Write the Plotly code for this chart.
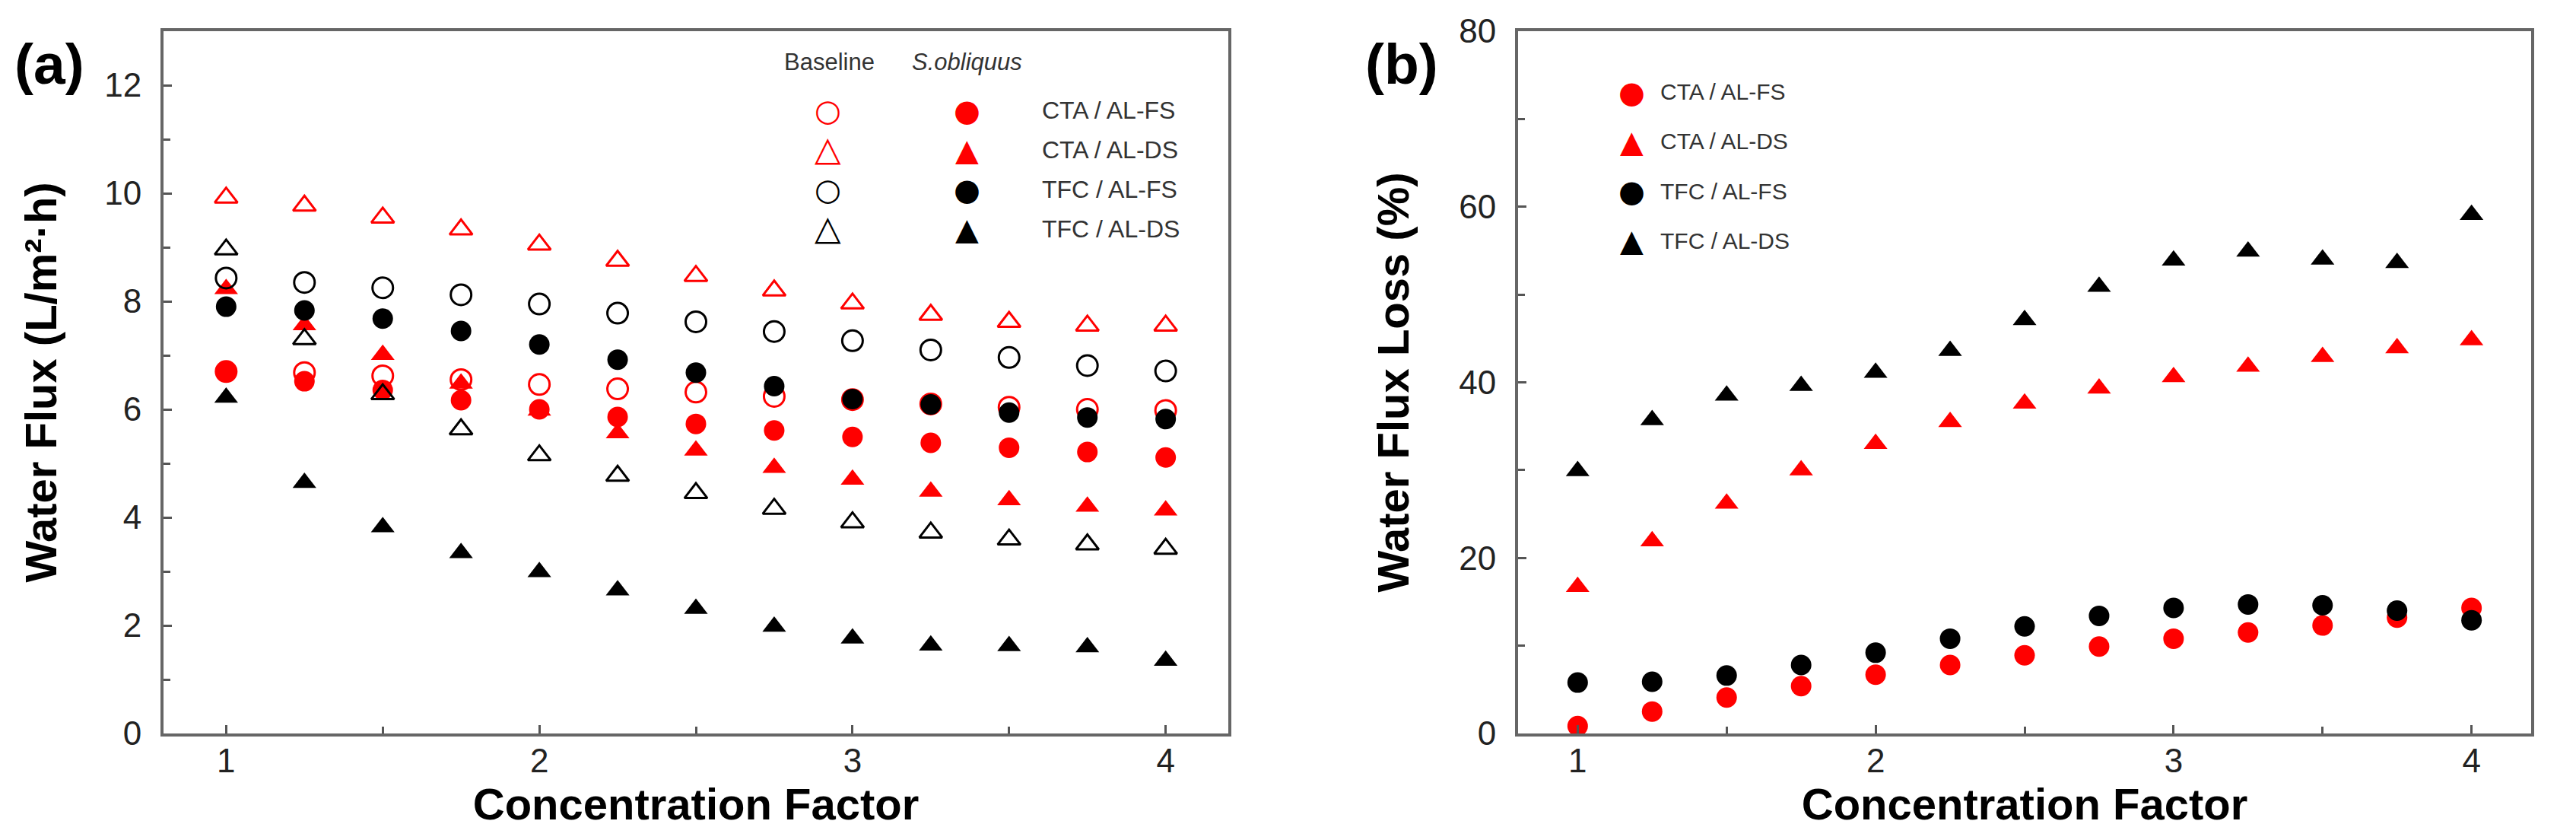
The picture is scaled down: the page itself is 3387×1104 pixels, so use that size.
import plotly.graph_objects as go

W, H = 3387, 1104

# ---------------- data ----------------
cf = [1.0, 1.25, 1.5, 1.75, 2.0, 2.25, 2.5, 2.75, 3.0, 3.25, 3.5, 3.75, 4.0]

# panel (a) water flux (L/m2.h)
a_base_cta_fs = [6.70, 6.68, 6.62, 6.55, 6.46, 6.38, 6.32, 6.24, 6.18, 6.10, 6.04, 6.00, 5.98]
a_so_cta_fs = [6.70, 6.52, 6.36, 6.17, 6.00, 5.86, 5.73, 5.61, 5.49, 5.38, 5.29, 5.21, 5.11]
a_base_cta_ds = [9.92, 9.77, 9.55, 9.33, 9.05, 8.75, 8.47, 8.20, 7.96, 7.75, 7.62, 7.55, 7.55]
a_so_cta_ds = [8.23, 7.56, 7.01, 6.48, 5.98, 5.56, 5.24, 4.92, 4.70, 4.48, 4.32, 4.20, 4.13]
a_base_tfc_fs = [8.43, 8.35, 8.25, 8.12, 7.95, 7.78, 7.62, 7.44, 7.27, 7.10, 6.96, 6.81, 6.71]
a_so_tfc_fs = [7.90, 7.83, 7.68, 7.45, 7.20, 6.92, 6.68, 6.43, 6.19, 6.09, 5.94, 5.85, 5.82]
a_base_tfc_ds = [8.96, 7.30, 6.28, 5.63, 5.15, 4.77, 4.45, 4.16, 3.91, 3.72, 3.59, 3.50, 3.42]
a_so_tfc_ds = [6.22, 4.64, 3.82, 3.34, 2.99, 2.65, 2.31, 1.98, 1.76, 1.63, 1.62, 1.60, 1.35]

# panel (b) water flux loss (%)
b_cta_fs = [0.85, 2.5, 4.1, 5.4, 6.7, 7.8, 8.9, 9.9, 10.8, 11.5, 12.3, 13.2, 14.3]
b_cta_ds = [16.7, 21.9, 26.2, 30.0, 33.0, 35.5, 37.6, 39.3, 40.6, 41.8, 42.9, 43.9, 44.8]
b_tfc_fs = [5.8, 5.9, 6.6, 7.8, 9.2, 10.8, 12.2, 13.4, 14.3, 14.7, 14.6, 14.0, 12.9]
b_tfc_ds = [29.9, 35.7, 38.5, 39.6, 41.1, 43.6, 47.1, 50.9, 53.9, 54.9, 54.0, 53.6, 59.1]

series_names = ["CTA / AL-FS", "CTA / AL-DS", "TFC / AL-FS", "TFC / AL-DS"]
x_ticks = [1, 2, 3, 4]

RED = "#ff0000"
BLK = "#000000"
TXT = "Liberation Sans, Arial, sans-serif"


def X(px):
    return px / W


def Y(py):
    return 1 - py / H


fig = go.Figure()


def add(x, y, symbol, color, size, ax, name, lw=0):
    fig.add_trace(go.Scatter(
        x=x, y=y, mode="markers", name=name, showlegend=False,
        xaxis=ax[0], yaxis=ax[1],
        marker=dict(symbol=symbol, size=size, color=color,
                    line=dict(width=lw, color=color)),
    ))


A = ("x", "y")
B = ("x2", "y2")
# panel (a) - drawing order as in the original
add(cf, a_base_cta_fs, "circle-open", RED, 27, A, "Baseline CTA / AL-FS", 3)
add(cf, a_so_cta_fs, "circle", RED, 27, A, "S.obliquus CTA / AL-FS")
add(cf, a_base_cta_ds, "triangle-up-open", RED, 26, A, "Baseline CTA / AL-DS", 3)
add(cf, a_so_cta_ds, "triangle-up", RED, 27, A, "S.obliquus CTA / AL-DS")
add(cf, a_base_tfc_fs, "circle-open", BLK, 27, A, "Baseline TFC / AL-FS", 3)
add(cf, a_so_tfc_fs, "circle", BLK, 27, A, "S.obliquus TFC / AL-FS")
add(cf, a_base_tfc_ds, "triangle-up-open", BLK, 26, A, "Baseline TFC / AL-DS", 3)
add(cf, a_so_tfc_ds, "triangle-up", BLK, 27, A, "S.obliquus TFC / AL-DS")
# panel (b)
add(cf, b_cta_fs, "circle", RED, 27, B, "CTA / AL-FS")
add(cf, b_cta_ds, "triangle-up", RED, 27, B, "CTA / AL-DS")
add(cf, b_tfc_fs, "circle", BLK, 27, B, "TFC / AL-FS")
add(cf, b_tfc_ds, "triangle-up", BLK, 27, B, "TFC / AL-DS")

axis_common = dict(
    showline=True, linewidth=4, linecolor="#666666", mirror=True,
    showgrid=False, zeroline=False,
    ticks="inside", ticklen=11, tickwidth=3, tickcolor="#555555",
    tickfont=dict(family=TXT, size=44, color="#222222"),
)
title_font = dict(family=TXT, size=58, color="#000000", weight="bold")

ydom = [Y(956), Y(33)]

fig.update_layout(
    width=W, height=H,
    margin=dict(l=0, r=0, t=0, b=0),
    paper_bgcolor="white", plot_bgcolor="white",
    xaxis=dict(domain=[X(207), X(1607)], anchor="y", range=[0.8, 4.2],
               tickvals=x_ticks, ticklabelstandoff=-6,
               minor=dict(dtick=0.5, tick0=0, ticks="inside", ticklen=9,
                          tickwidth=3, tickcolor="#555555"),
               title=dict(text="Concentration Factor", font=title_font, standoff=10),
               automargin=False, **axis_common),
    yaxis=dict(domain=ydom, anchor="x", range=[0, 13], tick0=0, dtick=2,
               ticklabelstandoff=16,
               minor=dict(dtick=1, tick0=0, ticks="inside", ticklen=9,
                          tickwidth=3, tickcolor="#555555"),
               title=dict(text="Water Flux (L/m²·h)", font=title_font, standoff=45),
               automargin=False, **axis_common),
    xaxis2=dict(domain=[X(1988), X(3320)], anchor="y2", range=[0.8, 4.2],
                tickvals=x_ticks, ticklabelstandoff=-6,
                minor=dict(dtick=0.5, tick0=0, ticks="inside", ticklen=9,
                           tickwidth=3, tickcolor="#555555"),
                title=dict(text="Concentration Factor", font=title_font, standoff=10),
                automargin=False, **axis_common),
    yaxis2=dict(domain=ydom, anchor="x2", range=[0, 80], tick0=0, dtick=20,
                ticklabelstandoff=16,
                minor=dict(dtick=10, tick0=0, ticks="inside", ticklen=9,
                           tickwidth=3, tickcolor="#555555"),
                title=dict(text="Water Flux Loss (%)", font=title_font, standoff=48),
                automargin=False, **axis_common),
)

ann = []


def text(x, y, s, size, color="#333333", anchor="left", family=TXT, weight="normal"):
    ann.append(dict(x=X(x), y=Y(y), xref="paper", yref="paper", text=s,
                    showarrow=False, xanchor=anchor, yanchor="middle",
                    font=dict(family=family, size=size, color=color, weight=weight)))


# panel letters
text(57, 76, "(a)", 75, "#000000", "center", weight="bold")
text(1835, 76, "(b)", 75, "#000000", "center", weight="bold")

# panel (a) legend
text(1082, 74, "Baseline", 31, "#333333", "center")
text(1263, 74, "<i>S.obliquus</i>", 31, "#333333", "center")
glyph_open = ["○", "△", "○", "△"]
glyph_fill = ["●", "▲", "●", "▲"]
open_size = [40, 45, 40, 45]
fill_size = [40, 40, 40, 40]
glyph_color = [RED, RED, BLK, BLK]
rows_a = [137, 189, 241, 293]
open_rows = [137, 187, 241, 291]
for i in range(4):
    text(1080, open_rows[i], glyph_open[i], open_size[i], glyph_color[i], "center", "DejaVu Sans")
    text(1263, rows_a[i], glyph_fill[i], fill_size[i], glyph_color[i], "center", "DejaVu Sans")
    text(1360, rows_a[i], series_names[i], 32)

# panel (b) legend
rows_b = [113, 178, 243, 308]
for i in range(4):
    text(2137, rows_b[i], glyph_fill[i], fill_size[i], glyph_color[i], "center", "DejaVu Sans")
    text(2173, rows_b[i], series_names[i], 30)

fig.update_layout(annotations=ann)

fig.write_html("out.html")
